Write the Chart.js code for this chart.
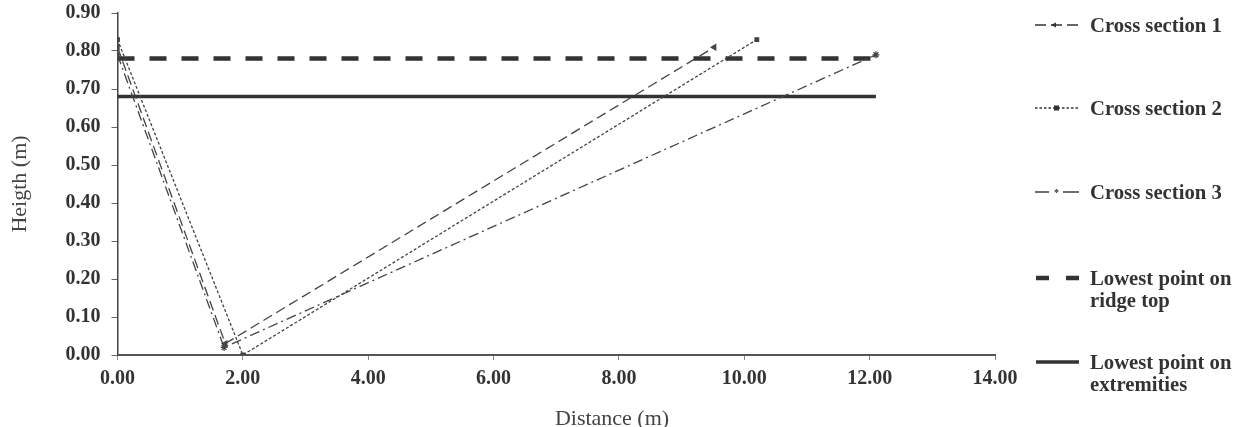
<!DOCTYPE html>
<html>
<head>
<meta charset="utf-8">
<script src="https://cdn.jsdelivr.net/npm/chart.js@4.4.1/dist/chart.umd.min.js"></script>
<style>
  html, body { margin: 0; padding: 0; background: #fff; }
  #wrap { position: relative; width: 1240px; height: 427px; overflow: hidden; }
  #c { position: absolute; left: 0; top: 0; }
  .xt { position: absolute; left: 512px; width: 200px; top: 405px; text-align: center;
        font-family: "Liberation Serif", serif; font-size: 22px; color: #444; line-height: 26px; }
  .lg { position: absolute; left: 1034px; font-family: "Liberation Serif", serif; font-weight: bold;
        font-size: 20.7px; color: #333; line-height: 22px; }
  .lg svg { position: absolute; left: 0; top: 0; }
  .lg span { position: absolute; left: 56px; top: 0; white-space: nowrap; }
</style>
</head>
<body>
<div id="wrap">
  <canvas id="c" width="1240" height="427"></canvas>
  <div class="xt">Distance (m)</div>
  <div id="legend"></div>
</div>
<script>
// ---- data ----
const xTicksMin = 0, xTicksMax = 14, xStep = 2;
const yTicksMin = 0, yTicksMax = 0.9, yStep = 0.1;

const cs1X = [0.00, 1.72, 9.52];
const cs1Y = [0.81, 0.03, 0.81];
const cs2X = [0.00, 2.00, 10.20];
const cs2Y = [0.83, 0.00, 0.83];
const cs3X = [0.00, 1.70, 12.10];
const cs3Y = [0.79, 0.02, 0.79];
const ridgeX = [0.00, 12.10];
const ridgeY = [0.78, 0.78];
const extrX = [0.00, 12.10];
const extrY = [0.68, 0.68];

const seriesLabels = ["Cross section 1", "Cross section 2", "Cross section 3",
                      "Lowest point on ridge top", "Lowest point on extremities"];

function pts(xs, ys) { return xs.map((x, i) => ({ x: x, y: ys[i] })); }

const lineCol = '#444';
const ctx = document.getElementById('c').getContext('2d');
const chart = new Chart(ctx, {
  type: 'line',
  data: {
    datasets: [
      { label: seriesLabels[0], data: pts(cs1X, cs1Y), borderColor: lineCol, backgroundColor: lineCol,
        borderWidth: 1.3, borderDash: [10, 5], pointStyle: 'triangle', rotation: -90, pointRadius: 3 },
      { label: seriesLabels[1], data: pts(cs2X, cs2Y), borderColor: lineCol, backgroundColor: lineCol,
        borderWidth: 1.3, borderDash: [3, 2], pointStyle: 'rect', pointRadius: 2.5 },
      { label: seriesLabels[2], data: pts(cs3X, cs3Y), borderColor: lineCol, backgroundColor: lineCol,
        borderWidth: 1.3, borderDash: [10, 4, 2, 4], pointStyle: 'star', pointRadius: 3.5 },
      { label: seriesLabels[3], data: pts(ridgeX, ridgeY), borderColor: '#333', borderWidth: 4.5,
        borderDash: [17, 15], pointRadius: 0 },
      { label: seriesLabels[4], data: pts(extrX, extrY), borderColor: '#333', borderWidth: 3.5,
        pointRadius: 0 }
    ]
  },
  options: {
    responsive: false,
    animation: false,
    layout: { padding: { left: 0, right: 245, top: 13, bottom: 0 } },
    plugins: { legend: { display: false }, tooltip: { enabled: false } },
    elements: { line: { tension: 0, borderCapStyle: 'butt' } },
    scales: {
      x: {
        type: 'linear', min: xTicksMin, max: xTicksMax,
        ticks: { stepSize: xStep, callback: v => v.toFixed(2), color: '#333', padding: 7,
                 maxRotation: 0, font: { family: 'Liberation Serif', weight: 'bold', size: 20 } },
        grid: { display: true, drawOnChartArea: false, drawTicks: true, tickLength: 5, color: '#888' },
        border: { display: true, color: '#555', width: 2 },
        afterFit: s => { s.height = 72; s.paddingLeft = 0; s.paddingRight = 0; }
      },
      y: {
        type: 'linear', min: yTicksMin, max: yTicksMax,
        ticks: { stepSize: yStep, callback: v => v.toFixed(2), color: '#333', padding: 11,
                 font: { family: 'Liberation Serif', weight: 'bold', size: 20 } },
        grid: { display: true, drawOnChartArea: false, drawTicks: true, tickLength: 6, color: '#666' },
        border: { display: true, color: '#444', width: 1.5 },
        title: { display: true, text: 'Heigth (m)', color: '#444', padding: { top: 7, bottom: 0 },
                 font: { family: 'Liberation Serif', size: 22 } },
        afterFit: s => { s.width = 117.5; s.paddingTop = 0; s.paddingBottom = 0; }
      }
    }
  }
});

// ---- legend (HTML) ----
const legendRows = [
  { lines: ["Cross section 1"], top: 14, kind: 0 },
  { lines: ["Cross section 2"], top: 97, kind: 1 },
  { lines: ["Cross section 3"], top: 181, kind: 2 },
  { lines: ["Lowest point on", "ridge top"], top: 267, kind: 3 },
  { lines: ["Lowest point on", "extremities"], top: 351, kind: 4 }
];
function sample(kind) {
  const c = '#333';
  const yy = 11;
  if (kind === 0) return `<svg width="46" height="22"><line x1="1" y1="${yy}" x2="45" y2="${yy}" stroke="${c}" stroke-width="1.4" stroke-dasharray="11,5,0,0"/><polygon points="17,${yy} 22,${yy-2.5} 22,${yy+2.5}" fill="${c}"/></svg>`;
  if (kind === 1) return `<svg width="46" height="22"><line x1="1" y1="${yy}" x2="45" y2="${yy}" stroke="${c}" stroke-width="1.3" stroke-dasharray="2.5,2"/><rect x="20" y="${yy-2.5}" width="5" height="5" fill="${c}"/></svg>`;
  if (kind === 2) return `<svg width="46" height="22"><line x1="1" y1="${yy}" x2="15" y2="${yy}" stroke="${c}" stroke-width="1.4"/><line x1="29" y1="${yy}" x2="45" y2="${yy}" stroke="${c}" stroke-width="1.4"/><text x="22.5" y="${yy+4}" font-size="10" text-anchor="middle" fill="${c}">*</text></svg>`;
  if (kind === 3) return `<svg width="46" height="22"><line x1="2" y1="${yy}" x2="45" y2="${yy}" stroke="${c}" stroke-width="4.5" stroke-dasharray="13,17"/></svg>`;
  return `<svg width="46" height="22"><line x1="2" y1="${yy}" x2="45" y2="${yy}" stroke="${c}" stroke-width="3.5"/></svg>`;
}
const lg = document.getElementById('legend');
legendRows.forEach(r => {
  const d = document.createElement('div');
  d.className = 'lg';
  d.style.top = r.top + 'px';
  d.style.width = '206px';
  d.style.height = (r.lines.length * 22) + 'px';
  d.innerHTML = sample(r.kind) + '<span>' + r.lines.join('<br>') + '</span>';
  lg.appendChild(d);
});
</script>
</body>
</html>
